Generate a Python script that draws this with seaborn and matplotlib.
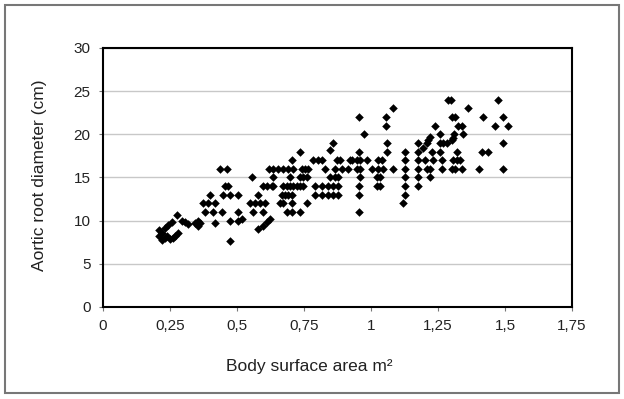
import matplotlib
matplotlib.use("Agg")
import matplotlib.pyplot as plt
from matplotlib.patches import Rectangle
import seaborn as sns
import pandas as pd

# body surface area (m2) and aortic root diameter
bsa = [
    # smallest children
    0.21, 0.22, 0.21, 0.24, 0.26, 0.22, 0.27, 0.23, 0.28, 0.25, 0.23,
    0.243, 0.257, 0.278, 0.295, 0.306, 0.317, 0.343, 0.354, 0.362, 0.418,
    # 0.35 - 0.52
    0.354, 0.373, 0.392, 0.418, 0.38, 0.41, 0.444, 0.40, 0.448, 0.474, 0.504,
    0.437, 0.463, 0.455, 0.466, 0.474, 0.504, 0.519, 0.504, 0.474,
    # 0.55 - 0.63
    0.556, 0.62, 0.578, 0.597, 0.612, 0.631, 0.549, 0.567, 0.586, 0.604,
    0.56, 0.597, 0.578, 0.597, 0.612, 0.623,
    # 0.63 - 0.92
    0.858, 0.847, 0.735,
    0.705, 0.784, 0.802, 0.817, 0.873, 0.884, 0.92,
    0.634, 0.653, 0.672, 0.69, 0.709, 0.743, 0.754, 0.765, 0.828, 0.866, 0.892, 0.914,
    0.634, 0.698, 0.735, 0.746, 0.761, 0.847, 0.866, 0.877,
    0.634, 0.672, 0.687, 0.698, 0.709, 0.724, 0.735, 0.746, 0.791, 0.817, 0.84, 0.858, 0.877,
    0.668, 0.679, 0.69, 0.705, 0.791, 0.817, 0.84, 0.858, 0.877,
    0.66, 0.672, 0.705, 0.761,
    0.687, 0.705, 0.735,
    # 0.93 - 1.18
    1.082, 1.056, 0.955, 1.056, 0.974, 1.06, 1.175, 1.06, 0.955, 1.127, 1.175,
    0.929, 0.948, 0.959, 0.985, 1.026, 1.041, 1.127, 1.175,
    0.948, 0.959, 1.004, 1.026, 1.045, 1.082, 1.127, 1.175,
    0.959, 1.022, 1.034, 1.127, 1.175,
    0.955, 1.022, 1.034, 1.127, 1.175,
    0.955, 1.127, 1.12, 0.955,
    # 1.19 - 1.52
    1.287, 1.30, 1.474, 1.362, 1.418, 1.493, 1.302, 1.313,
    1.463, 1.511, 1.325, 1.34, 1.239,
    1.343, 1.257, 1.31, 1.22, 1.213, 1.209, 1.306, 1.302,
    1.257, 1.269, 1.284, 1.493,
    1.194, 1.228, 1.257, 1.321, 1.414, 1.437,
    1.2, 1.231, 1.265, 1.306, 1.321, 1.332,
    1.209, 1.22, 1.265, 1.302, 1.313, 1.34, 1.403, 1.493,
    1.22,
]
aortic = [
    8.9, 8.6, 8.2, 8.2, 8.0, 7.8, 8.2, 9.2, 8.6, 7.9, 8.0,
    9.5, 9.8, 10.7, 10.0, 9.8, 9.6, 9.7, 9.4, 9.7, 9.7,
    10, 12, 12, 12, 11, 11, 11, 13, 13, 13, 13,
    16, 16, 14, 14, 10, 10, 10.2, 11, 7.7,
    15, 16, 13, 14, 14, 14, 12, 12, 12, 12,
    11, 11, 9, 9.4, 9.8, 10.2,
    19, 18.2, 18,
    17, 17, 17, 17, 17, 17, 17,
    16, 16, 16, 16, 16, 16, 16, 16, 16, 16, 16, 16,
    15, 15, 15, 15, 15, 15, 15, 15,
    14, 14, 14, 14, 14, 14, 14, 14, 14, 14, 14, 14, 14,
    13, 13, 13, 13, 13, 13, 13, 13, 13,
    12, 12, 12, 12,
    11, 11, 11,
    23, 22, 22, 21, 20, 19, 19, 18, 18, 18, 18,
    17, 17, 17, 17, 17, 17, 17, 17,
    16, 16, 16, 16, 16, 16, 16, 16,
    15, 15, 15, 15, 15,
    14, 14, 14, 14, 14,
    13, 13, 12, 11,
    24, 24, 24, 23, 22, 22, 22, 22,
    21, 21, 21, 21, 21,
    20, 20, 20, 19.7, 19.4, 19, 19.6, 19.4,
    19, 19, 19, 19,
    18.4, 18, 18, 18, 18, 18,
    17, 17, 17, 17, 17, 17,
    16, 16, 16, 16, 16, 16, 16, 16,
    15,
]

x_ticks = [0, 0.25, 0.5, 0.75, 1, 1.25, 1.5, 1.75]
x_tick_labels = ["0", "0,25", "0,5", "0,75", "1", "1,25", "1,5", "1,75"]
y_ticks = [0, 5, 10, 15, 20, 25, 30]

sns.set_theme(style="white")
plt.rcParams["font.family"] = ["Liberation Sans", "DejaVu Sans"]

df = pd.DataFrame({"bsa": bsa, "aortic": aortic})

fig = plt.figure(figsize=(6.24, 3.99), dpi=100)
ax = fig.add_axes([0.165, 0.2306, 0.7516, 0.6491])

sns.scatterplot(data=df, x="bsa", y="aortic", marker="D", color="black",
                s=19, linewidth=0, ax=ax, zorder=3)

ax.set_xlim(0, 1.75)
ax.set_ylim(0, 30)
ax.set_xticks(x_ticks)
ax.set_xticklabels(x_tick_labels)
ax.set_yticks(y_ticks)
ax.grid(axis="y", color="#c8c8c8", linewidth=1)
ax.grid(axis="x", visible=False)
for sp in ax.spines.values():
    sp.set_visible(True)
    sp.set_color("black")
    sp.set_linewidth(1.5)
ax.tick_params(bottom=True, left=True, length=3, width=0.8, color="#777",
               labelsize=11, labelcolor="#222", pad=6)

ax.set_xlabel("Body surface area m²", fontsize=12.5, color="#222")
ax.set_ylabel("Aortic root diameter (cm)", fontsize=12.5, color="#222")
ax.xaxis.set_label_coords(0.44, -0.2)
ax.yaxis.set_label_coords(-0.119, 0.51)

# grey frame round the whole figure
fig.patches.append(Rectangle((0.008, 0.015), 0.984, 0.972, transform=fig.transFigure,
                             fill=False, edgecolor="#777", linewidth=1.5))

fig.savefig("out.png", dpi=100)
